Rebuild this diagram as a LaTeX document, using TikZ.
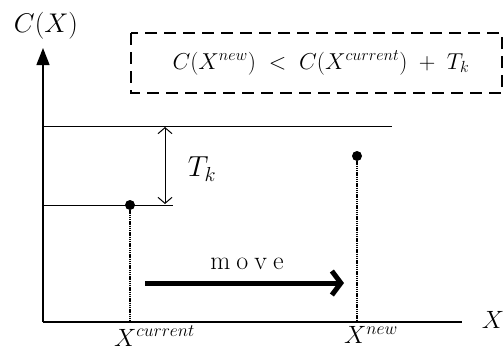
\RequirePackage{fix-cm}
\documentclass[tikz,border=0pt]{standalone}
\usetikzlibrary{arrows.meta}
\begin{document}
\begin{tikzpicture}[x=1pt,y=-1pt,
  axis/.style={line width=1.4pt},
  thin line/.style={line width=1pt},
  dotline/.style={line width=2.6pt, dash pattern=on 1.3pt off 0.9pt},
  dotmark/.style={circle, fill=black, inner sep=0pt, minimum size=10pt},
  lbl/.style={inner sep=0pt},
  dashbox/.style={line width=2.6pt, dash pattern=on 12pt off 7pt}]
\useasboundingbox (0,0) rectangle (504,354);
% axes
\coordinate (O) at (43,322);
\coordinate (ytop) at (43,48);
\coordinate (xend) at (462,322);
\draw[axis] (O) -- (xend);
\draw[axis, -{Triangle[length=17pt,width=13pt]}] (O) -- (ytop);
\node[lbl] (cx) at (46,26) {\fontsize{27}{32}\selectfont $C(X)$};
\node[lbl] (xl) at (493,320) {\fontsize{25}{30}\selectfont $X$};
% level lines
\coordinate (h1a) at (43,126);
\coordinate (h1b) at (392,126);
\coordinate (h2a) at (43,205);
\coordinate (h2b) at (173,205);
\draw[thin line] (h1a) -- (h1b);
\draw[thin line] (h2a) -- (h2b);
% T_k double arrow
\coordinate (ta) at (165,127);
\coordinate (tb) at (165,204);
\draw[thin line, {Straight Barb[length=6pt,width=14pt]}-{Straight Barb[length=6pt,width=14pt]}] (ta) -- (tb);
\node[lbl] (tk) at (202,169) {\fontsize{29}{34}\selectfont $T_k$};
% current point
\node[dotmark] (pc) at (130,205) {};
\coordinate (bc) at (130,322);
\draw[dotline] (pc) -- (bc);
\node[lbl, anchor=north west] (xc) at (114,326) {\fontsize{25}{30}\selectfont $X^{current}$};
% new point
\node[dotmark] (pn) at (357,156) {};
\coordinate (bn) at (357,322);
\draw[dotline] (pn) -- (bn);
\node[lbl, anchor=north west] (xn) at (344,326) {\fontsize{25}{30}\selectfont $X^{new}$};
% move arrow
\coordinate (ma) at (145,283);
\coordinate (mb) at (344,283);
\draw[line width=5pt, -{Straight Barb[length=9pt,width=24pt]}] (ma) -- (mb);
\node[lbl] (mv) at (247,264) {\fontsize{26}{30}\selectfont m\hspace{6pt}o\hspace{6pt}v\hspace{6pt}e};
% condition box
\coordinate (b1) at (131,33);
\coordinate (b2) at (502,93);
\draw[dashbox] (b1) rectangle (b2);
\node[lbl] (cond) at (321,63) {\fontsize{23}{28}\selectfont $C(X^{new}) \;<\; C(X^{current}) \;+\; T_k$};
\end{tikzpicture}
\end{document}
